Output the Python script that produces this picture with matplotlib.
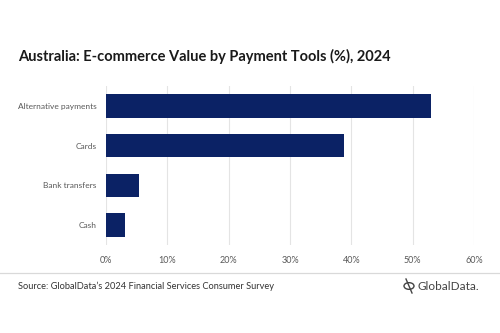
import matplotlib
matplotlib.use("Agg")
import matplotlib.pyplot as plt
from matplotlib.patches import Circle
from matplotlib.lines import Line2D

# data
categories = ["Alternative payments", "Cards", "Bank transfers", "Cash"]
values = [53.0, 38.8, 5.3, 3.1]
xticks = [0, 10, 20, 30, 40, 50, 60]

navy = "#0b2265"
grey_txt = "#595959"
plt.rcParams["font.family"] = ["Lato", "DejaVu Sans"]

fig = plt.figure(figsize=(5, 3.33), dpi=100)
W, H = 500, 333
ax = fig.add_axes([106 / W, 1 - 245 / H, (474 - 106) / W, (245 - 86) / H])

ypos = list(range(len(categories)))
ax.barh(ypos, values, height=0.59, color=navy, zorder=3)
ax.set_ylim(len(categories) - 0.5, -0.5)
ax.set_xlim(0, 60)
ax.set_yticks(ypos)
ax.set_yticklabels(categories, fontsize=6.0, color=grey_txt)
ax.set_xticks(xticks)
ax.set_xticklabels([f"{t}%" for t in xticks], fontsize=6.5, color=grey_txt)
ax.tick_params(axis="y", length=0, pad=7)
ax.tick_params(axis="x", length=0, pad=8)
ax.grid(axis="x", color="#e4e4e4", linewidth=0.8, zorder=0)
for s in ax.spines.values():
    s.set_visible(False)

fig.text(18 / W, 1 - 56 / H, "Australia: E-commerce Value by Payment Tools (%), 2024",
         fontsize=10.5, fontweight="bold", color="#1a1a1a", va="center", ha="left")

# separator
fig.add_artist(Line2D([0, 1], [1 - 272.5 / H] * 2, color="#d9d9d9", linewidth=0.9,
                      transform=fig.transFigure))
fig.text(18 / W, 1 - 286 / H, "Source: GlobalData\u2019s 2024 Financial Services Consumer Survey",
         fontsize=6.7, color="#333333", va="center", ha="left")

# logo
fig.add_artist(Circle((409 / W, 1 - 286 / H), 5 / W, transform=fig.transFigure,
                      fill=False, edgecolor="#444444", linewidth=1.0))
fig.add_artist(Line2D([406 / W, 412 / W], [1 - 279 / H, 1 - 293 / H], color="#444444",
                      linewidth=1.0, transform=fig.transFigure))
fig.text(417 / W, 1 - 286 / H, "GlobalData.", fontsize=8.5, color="#444444",
         va="center", ha="left")

fig.savefig("out.png", dpi=100)
